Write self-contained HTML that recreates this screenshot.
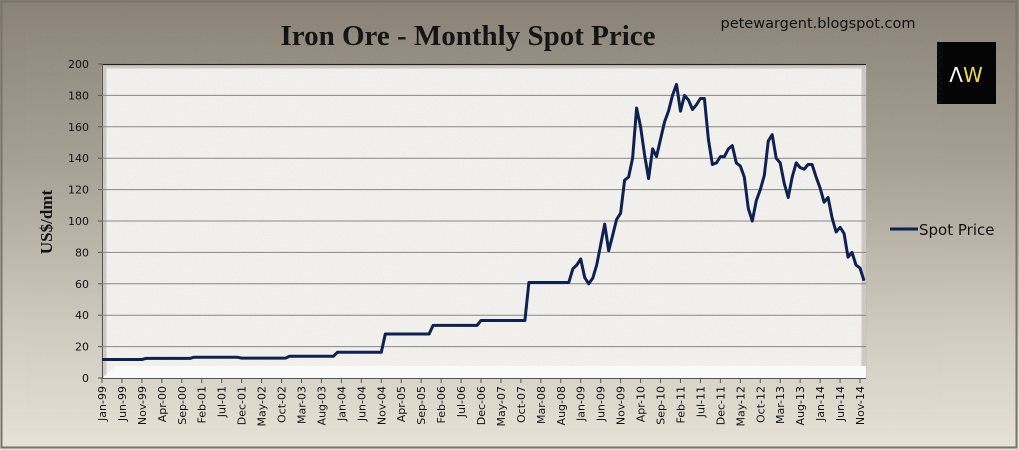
<!DOCTYPE html>
<html><head><meta charset="utf-8">
<style>
html,body{margin:0;padding:0;width:1019px;height:450px;overflow:hidden;}
body{background:#a8a195;font-family:"Liberation Sans",sans-serif;}
</style></head>
<body>
<svg id="chart" width="1019" height="450" xmlns="http://www.w3.org/2000/svg">
<defs>
<linearGradient id="bg" x1="0" y1="0" x2="0" y2="1">
<stop offset="0" stop-color="#8a8277"/><stop offset="0.35" stop-color="#a59e92"/><stop offset="0.75" stop-color="#d2cdc2"/><stop offset="1" stop-color="#e7e2d7"/></linearGradient>
<filter id="noise"><feTurbulence type="fractalNoise" baseFrequency="0.9" numOctaves="2" seed="3"/><feColorMatrix type="matrix" values="0 0 0 0 0.5  0 0 0 0 0.5  0 0 0 0 0.5  0 0 0 -0.9 0.5"/></filter>
</defs>
<rect x="0" y="0" width="1019" height="450" fill="url(#bg)"/>
<rect x="1.5" y="1.5" width="1015" height="446" fill="none" stroke="#7a7368" stroke-width="2"/>
<text x="468" y="45" text-anchor="middle" font-family="'Liberation Serif',serif" font-weight="bold" font-size="29" fill="#111">Iron Ore - Monthly Spot Price</text>
<text x="818" y="28" text-anchor="middle" font-family="'DejaVu Sans',sans-serif" font-size="14.5" fill="#111">petewargent.blogspot.com</text>
<g>
<rect x="937" y="42" width="59" height="62" fill="#050505"/>
<text x="966" y="82" text-anchor="middle" font-family="'DejaVu Sans',sans-serif" font-size="20" fill="#fff">Λ<tspan fill="#e8d94a">W</tspan></text>
</g>
<g>
<rect x="102" y="64" width="764" height="314" fill="#f2f1ee"/>
<rect x="102" y="64" width="764" height="314" fill="#fff" filter="url(#noise)" opacity="0.4"/>
<rect x="104" y="66" width="760" height="310" fill="none" stroke="#b5afa5" stroke-width="5" opacity="0.6"/>
<polygon points="102,378 866,378 866,366 116,366" fill="#fafaf8"/>
<line x1="102" y1="64.5" x2="866" y2="64.5" stroke="#222" stroke-width="1.2"/>
<line x1="102.5" y1="64" x2="102.5" y2="378" stroke="#555" stroke-width="1"/>
</g>
<g id="grid"></g><g id="yaxis"></g><g id="xaxis"></g><g id="series"></g>
<text transform="translate(52,222) rotate(-90)" text-anchor="middle" font-family="'Liberation Serif',serif" font-weight="bold" font-size="17" fill="#111">US$/dmt</text>
<g>
<line x1="890" y1="229" x2="918" y2="229" stroke="#0e2150" stroke-width="3"/>
<text x="919" y="235" font-family="'DejaVu Sans',sans-serif" font-size="15" fill="#111">Spot Price</text>
</g>
</svg>
<script>
const yTicks=[0,20,40,60,80,100,120,140,160,180,200];
const monthNames=["Jan","Feb","Mar","Apr","May","Jun","Jul","Aug","Sep","Oct","Nov","Dec"];
const startYear=1999;
const stepValues=[11.8,12.5,13.2,12.7,13.8,16.4,28,33.5,36.6,60.8];
const stepLengths=[11,12,12,12,12,12,12,12,12,11];
const laterValues=[69.5,72,75.8,64,60,63.5,72,85,98,81,91,101,105,126,128,140,172,160,142,127,146,141,152,163,170,180,187,170,180,177,171,174,178,178,152,136,137,141,141,146,148,137,135,128,108,100,113,120,129,151,155,140,137,124,115,128,137,134,133,136,136,128,121,112,115,102,93,96,92,77,80,72,70,62];
const prices=[];
stepValues.forEach((v,k)=>{for(let j=0;j<stepLengths[k];j++)prices.push(v);});
laterValues.forEach(v=>prices.push(v));
const categories=prices.map((_,i)=>monthNames[i%12]+"-"+String((startYear+Math.floor(i/12))%100).padStart(2,"0"));

const X0=102,X1=864,Y0=378,Y1=64;
const xs=i=>X0+i*(X1-X0)/(categories.length-1);
const ys=v=>Y0-(v/200)*(Y0-Y1);
const NS="http://www.w3.org/2000/svg";
function mk(tag,attrs,parent){const e=document.createElementNS(NS,tag);for(const k in attrs)e.setAttribute(k,attrs[k]);parent.appendChild(e);return e;}
const grid=document.getElementById('grid'),ya=document.getElementById('yaxis'),xa=document.getElementById('xaxis'),se=document.getElementById('series');
yTicks.forEach(t=>{
 if(t>0&&t<200){const g=mk('line',{x1:X0,x2:866,y1:ys(t),y2:ys(t),stroke:'#8a8782','stroke-width':1},grid);
 
 }
 const tx=mk('text',{x:89,y:ys(t)+4,'text-anchor':'end','font-family':"'DejaVu Sans',sans-serif",'font-size':11,fill:'#111'},ya);
 tx.textContent=t;
 
 
 mk('line',{x1:98,x2:102,y1:ys(t),y2:ys(t),stroke:'#555'},ya);
});
mk('line',{x1:X0,x2:866,y1:378.5,y2:378.5,stroke:'#555'},xa);
categories.forEach((c,i)=>{
 if(i%5!==0)return;
 const x=xs(i);
 mk('line',{x1:x,x2:x,y1:378,y2:383,stroke:'#555'},xa);
 const t=mk('text',{transform:`translate(${x+4},386) rotate(-90)`,'text-anchor':'end','font-family':"'DejaVu Sans',sans-serif",'font-size':11,fill:'#111'},xa);
 t.textContent=c;
 
 
});
const path=mk('polyline',{points:prices.map((v,i)=>xs(i).toFixed(1)+','+ys(v).toFixed(1)).join(' '),fill:'none',stroke:'#0e2150','stroke-width':3,'stroke-linejoin':'round'},se);


</script>
</body></html>
